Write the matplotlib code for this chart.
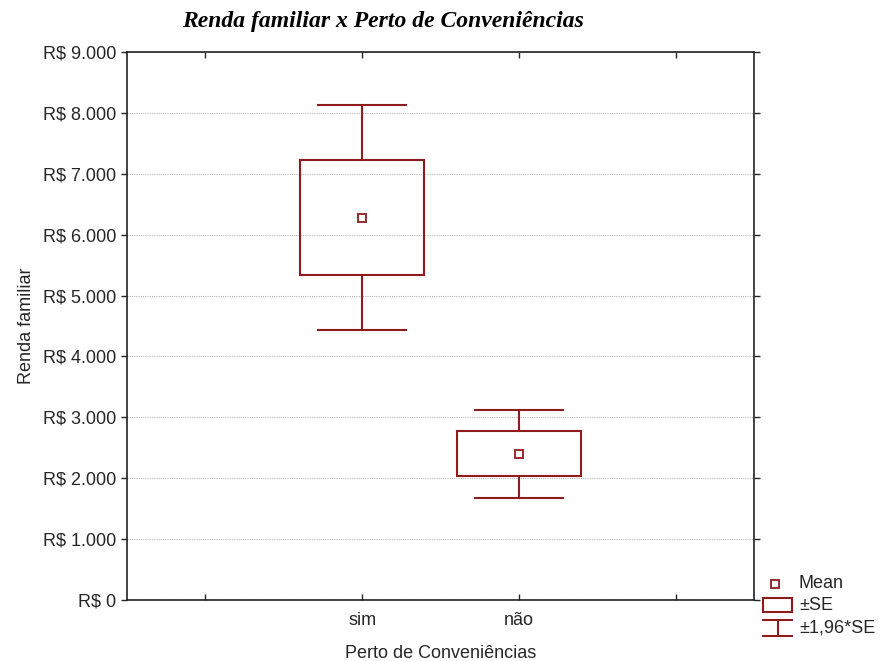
import numpy as np
import matplotlib.pyplot as plt
from matplotlib.patches import Rectangle
from matplotlib.lines import Line2D
from matplotlib.ticker import FuncFormatter

# mean and standard error of family income by group
categories = ["sim", "não"]
means = [6280, 2400]
std_errors = [945, 370]

DARK_RED = "#8e1c1c"
TEXT = "#262626"
W, H = 882, 661
plt.rcParams["font.family"] = ["Liberation Sans", "DejaVu Sans"]

fig = plt.figure(figsize=(W / 100, H / 100), dpi=100)
ax = fig.add_axes([0.144, 0.0923, 0.711, 0.829])

positions = np.arange(len(categories)) + 1.5
box_w = 0.79
cap_w = 0.56

for x, m, se in zip(positions, means, std_errors):
    lo, hi = m - 1.96 * se, m + 1.96 * se
    ax.add_patch(Rectangle((x - box_w / 2, m - se), box_w, 2 * se,
                           fill=False, edgecolor=DARK_RED, lw=1.5, zorder=3))
    ax.plot([x, x], [m + se, hi], color=DARK_RED, lw=1.5, zorder=3)
    ax.plot([x, x], [lo, m - se], color=DARK_RED, lw=1.5, zorder=3)
    ax.plot([x - cap_w / 2, x + cap_w / 2], [hi, hi], color=DARK_RED, lw=1.5, zorder=3)
    ax.plot([x - cap_w / 2, x + cap_w / 2], [lo, lo], color=DARK_RED, lw=1.5, zorder=3)
    ax.plot(x, m, "s", ms=6, mfc="white", mec=DARK_RED, mew=1.3, zorder=4)

ax.set_xlim(0, 4)
ax.set_ylim(0, 9000)
ax.set_xticks([0.5, 1.5, 2.5, 3.5])
ax.set_xticklabels(["", "sim", "não", ""])
ax.set_yticks(np.arange(0, 9001, 1000))
ax.yaxis.set_major_formatter(FuncFormatter(
    lambda v, _: "R$ 0" if v == 0 else "R$ " + f"{int(v):,}".replace(",", ".")))

ax.tick_params(axis="x", direction="in", top=True, length=4, width=1,
               labelsize=13, colors=TEXT, pad=9)
ax.tick_params(axis="y", direction="out", right=True, length=4, width=1,
               labelsize=13, colors=TEXT)
for s in ax.spines.values():
    s.set_linewidth(1.2)
    s.set_color("#222222")

ax.yaxis.grid(True, linestyle=(0, (1, 1)), color="#b8b8b8", lw=0.8)
ax.set_axisbelow(True)

ax.set_xlabel("Perto de Conveniências", fontsize=13, color=TEXT, labelpad=11)
ax.set_ylabel("Renda familiar", fontsize=13, color=TEXT, labelpad=6)
fig.text(383 / W, 1 - 22 / H, "Renda familiar x Perto de Conveniências",
         ha="center", va="center", fontsize=17, fontweight="bold",
         fontstyle="italic", family="Liberation Serif")


# legend drawn in figure pixels, lower right outside the plot
def px(x, y):
    return x / W, 1 - y / H


def seg(x0, y0, x1, y1):
    (a, b), (c, d) = px(x0, y0), px(x1, y1)
    fig.add_artist(Line2D([a, c], [b, d], color=DARK_RED, lw=1.5,
                          transform=fig.transFigure))


mx, my = px(775, 584)
fig.add_artist(Line2D([mx], [my], marker="s", ms=6, mfc="white", mec=DARK_RED,
                      mew=1.3, ls="none", transform=fig.transFigure))
bx, by = px(763, 612)
fig.add_artist(Rectangle((bx, by), 29 / W, 14 / H, fill=False, edgecolor=DARK_RED,
                         lw=1.5, transform=fig.transFigure))
seg(763, 620, 792, 620)
seg(777.5, 620, 777.5, 636)
seg(763, 636, 792, 636)

for y, label in [(584, "Mean"), (605, "±SE"), (628, "±1,96*SE")]:
    tx, ty = px(799, y)
    fig.text(tx, ty, label, ha="left", va="center", fontsize=13, color=TEXT)

fig.savefig("out.png", dpi=100)
